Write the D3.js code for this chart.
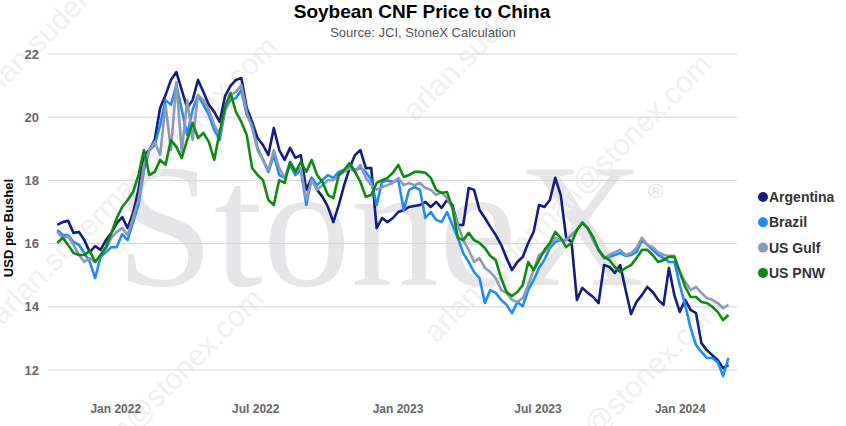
<!DOCTYPE html>
<html>
<head>
<meta charset="utf-8">
<script src="https://cdn.jsdelivr.net/npm/d3@7"></script>
<style>
  html, body { margin: 0; padding: 0; background: #fff; }
  svg { display: block; font-family: "Liberation Sans", Arial, sans-serif; }
</style>
</head>
<body>
<div id="chart"></div>
<script>

// weekly observations, first Monday of the series and last one
const firstWeek = "2021-10-18"
const lastWeek = "2024-03-04"

const seriesNames = ["Argentina", "Brazil", "US Gulf", "US PNW"]
const seriesColors = ["#151d7c", "#1f8cf5", "#8a9ab8", "#0e8a12"]

const argentina = [16.59,16.68,16.72,16.34,16.37,16.11,15.73,15.92,15.80,16.11,
  16.34,16.65,16.84,16.49,16.97,17.70,18.80,18.96,19.28,20.29,
  20.70,21.18,21.43,20.86,20.29,20.54,21.18,20.80,20.39,20.17,
  19.85,20.67,20.99,21.18,21.24,20.29,19.85,19.34,19.12,18.80,
  19.66,18.96,18.65,19.03,18.71,18.80,17.70,18.08,17.70,17.48,
  17.16,16.68,17.22,17.85,18.39,18.80,18.96,18.39,18.39,16.49,
  16.81,16.68,16.81,17.00,17.06,17.16,17.19,17.22,17.32,17.16,
  17.32,17.13,17.38,17.22,16.59,16.59,17.76,17.70,17.06,16.81,
  16.53,16.27,15.96,15.54,15.16,15.42,15.58,16.02,16.37,17.22,
  17.16,17.38,18.08,17.54,16.20,16.05,14.22,14.60,14.44,14.31,
  14.12,15.32,15.26,15.07,15.32,14.53,13.77,14.15,14.37,14.63,
  14.47,14.22,14.06,15.23,14.37,13.84,14.22,13.90,13.80,12.85,
  12.63,12.47,12.32,12.06,12.16]

const brazil = [16.43,16.27,16.27,16.05,15.96,15.70,15.42,14.91,15.58,15.73,
  15.89,15.89,16.30,16.11,16.68,17.22,18.33,18.96,19.12,19.75,
  20.54,20.39,21.02,20.23,19.44,20.23,20.70,20.39,20.07,19.59,
  19.28,20.23,20.54,20.61,20.86,20.07,19.75,19.03,18.65,18.27,
  18.80,18.17,18.08,18.49,18.17,18.33,17.22,18.08,17.85,18.01,
  18.17,18.08,18.27,18.33,18.49,18.33,18.39,18.27,18.01,17.22,
  17.95,18.00,17.95,18.01,17.06,17.70,17.79,17.70,16.81,17.00,
  16.75,16.68,17.00,16.59,16.18,15.70,15.42,15.10,14.91,14.12,
  14.53,14.44,14.22,14.06,13.80,14.15,14.02,14.53,14.85,15.23,
  15.48,15.86,16.05,16.11,16.11,16.27,16.43,16.68,16.49,16.11,
  15.80,15.54,15.58,15.64,15.70,15.61,15.64,15.73,16.11,15.96,
  15.80,15.64,15.54,15.42,15.42,14.69,14.06,13.33,12.79,12.57,
  12.38,12.38,12.25,11.81,12.38]

const usGulf = [16.37,16.18,16.24,15.96,15.64,15.42,15.54,15.42,15.64,15.86,
  16.18,16.37,16.49,16.27,16.81,17.38,18.49,18.96,19.22,18.80,
  20.39,18.96,21.11,18.90,20.54,19.28,20.70,20.54,20.23,19.75,
  19.44,20.23,20.70,20.80,21.02,20.17,19.66,18.96,18.65,18.33,
  18.96,18.39,18.08,18.58,18.33,18.39,17.38,18.01,17.70,17.85,
  18.01,18.01,18.17,18.27,18.39,18.27,18.49,18.08,17.85,17.70,
  17.79,17.85,17.92,18.08,17.85,17.92,17.85,17.92,17.76,17.70,
  17.54,17.63,17.44,17.13,16.59,16.11,15.80,15.42,15.54,15.23,
  15.10,14.91,14.53,14.44,14.22,14.15,14.28,14.69,15.16,15.64,
  15.73,15.96,16.18,16.11,16.11,16.27,16.43,16.68,16.49,16.11,
  15.80,15.54,15.64,15.73,15.80,15.64,15.70,15.86,16.18,15.96,
  15.89,15.73,15.64,15.61,15.61,15.10,14.79,14.53,14.63,14.44,
  14.28,14.22,14.12,13.96,14.06]

const usPnw = [16.02,16.18,15.96,15.70,15.64,15.64,15.77,15.42,15.64,15.89,
  16.34,16.81,17.16,17.38,17.63,18.17,18.96,18.17,18.27,18.65,
  18.49,19.28,19.06,18.71,19.28,19.82,19.34,19.50,19.22,18.65,
  19.53,20.32,20.77,20.17,19.85,19.44,18.39,18.17,18.01,17.38,
  17.22,18.01,17.92,18.58,18.27,18.58,18.27,18.65,18.17,17.95,
  17.54,17.44,18.17,18.33,18.55,18.27,17.95,17.48,17.54,17.92,
  18.01,18.08,18.24,18.49,18.11,18.17,18.27,18.27,18.24,18.08,
  17.70,17.60,17.63,17.13,16.18,16.11,16.34,16.11,16.02,15.86,
  15.61,15.48,14.91,14.47,14.34,14.47,14.69,15.42,15.16,15.48,
  15.80,16.02,16.37,16.18,15.89,16.02,16.43,16.65,16.49,16.21,
  15.80,15.58,15.48,15.26,15.10,15.23,15.32,15.54,15.80,15.80,
  15.64,15.42,15.48,15.58,15.58,15.10,14.63,14.31,14.31,14.15,
  14.12,14.00,13.84,13.58,13.74]

const yTicks = [12, 14, 16, 18, 20, 22]
const xTickDates = ["2022-01-01", "2022-07-01", "2023-01-01", "2023-07-01", "2024-01-01"]

const width = 846
const height = 426
const margin = { top: 54, right: 109, bottom: 56, left: 48 }

var parse = d3.utcParse("%Y-%m-%d")
var weeks = d3.utcMonday.range(parse(firstWeek), d3.utcDay.offset(parse(lastWeek), 1))
var allSeries = [argentina, brazil, usGulf, usPnw]

var svg = d3.select("#chart").append("svg")
    .attr("width", width)
    .attr("height", height)

var x = d3.scaleUtc()
    .domain([parse("2021-10-06"), parse("2024-03-15")])
    .range([margin.left, width - margin.right])

var y = d3.scaleLinear()
    .domain([12, 22])
    .range([370, 54])

// watermark: big logo text
var wm = svg.append("g")

wm.append("text")
    .attr("x", 116)
    .attr("y", 285)
    .attr("font-family", "'Liberation Serif', 'Times New Roman', serif")
    .attr("font-size", 176)
    .attr("fill", "#e6e6e8")
    .text("StoneX")

wm.append("text")
    .attr("x", 648)
    .attr("y", 198)
    .attr("font-size", 21)
    .attr("fill", "#e3e3e3")
    .text("\u00ae")

// diagonal email watermark
var stamps = [[-15, 108], [2, 326], [-12, 578], [415, 122], [436, 344], [448, 586]]
stamps.forEach(function(p) {
    wm.append("text")
        .attr("transform", `translate(${p[0]},${p[1]}) rotate(-45)`)
        .attr("font-size", 30)
        .attr("fill", "#f0f0f0")
        .text("arlan.suderman@stonex.com")
})

// grid lines
svg.append("g")
    .selectAll("line")
    .data(yTicks)
    .join("line")
    .attr("x1", margin.left)
    .attr("x2", width - margin.right)
    .attr("y1", d => y(d))
    .attr("y2", d => y(d))
    .attr("stroke", "#d6d6d6")
    .attr("stroke-width", 1)

// y axis labels
var yAxis = svg.append("g")
    .attr("transform", "translate(39,0)")
    .call(d3.axisLeft(y).tickValues(yTicks).tickSize(0).tickPadding(0).tickFormat(d3.format("d")))

yAxis.select(".domain").remove()
yAxis.selectAll("text")
    .attr("font-family", "'Liberation Sans', Arial, sans-serif")
    .attr("font-size", 13)
    .attr("font-weight", "bold")
    .attr("fill", "#666")

// x axis labels
var xAxis = svg.append("g")
    .attr("transform", "translate(0,404)")
    .call(d3.axisBottom(x).tickValues(xTickDates.map(parse)).tickSize(0).tickPadding(0).tickFormat(d3.utcFormat("%b %Y")))

xAxis.select(".domain").remove()
xAxis.selectAll("text")
    .attr("font-family", "'Liberation Sans', Arial, sans-serif")
    .attr("font-size", 12)
    .attr("font-weight", "bold")
    .attr("fill", "#666")

// axis title
svg.append("text")
    .attr("transform", "translate(13,228) rotate(-90)")
    .attr("text-anchor", "middle")
    .attr("font-size", 13)
    .attr("font-weight", "bold")
    .attr("fill", "#000")
    .text("USD per Bushel")

// title and subtitle
svg.append("text")
    .attr("x", 422)
    .attr("y", 18)
    .attr("text-anchor", "middle")
    .attr("font-size", 19)
    .attr("font-weight", "bold")
    .attr("fill", "#000")
    .text("Soybean CNF Price to China")

svg.append("text")
    .attr("x", 423)
    .attr("y", 37)
    .attr("text-anchor", "middle")
    .attr("font-size", 13)
    .attr("fill", "#555")
    .text("Source: JCI, StoneX Calculation")

// series lines
var line = d3.line()
    .x((d, i) => x(weeks[i]))
    .y(d => y(d))

svg.append("g")
    .selectAll("path")
    .data(allSeries)
    .join("path")
    .attr("d", d => line(d))
    .attr("fill", "none")
    .attr("stroke", (d, i) => seriesColors[i])
    .attr("stroke-width", 2.6)
    .attr("stroke-linejoin", "round")

// legend
var legend = svg.append("g")
    .selectAll("g")
    .data(seriesNames)
    .join("g")
    .attr("transform", (d, i) => `translate(763,${197 + i * 25.3})`)

legend.append("circle")
    .attr("r", 5)
    .attr("fill", (d, i) => seriesColors[i])

legend.append("text")
    .attr("x", 6)
    .attr("y", 5)
    .attr("font-size", 14)
    .attr("font-weight", "bold")
    .attr("fill", "#333")
    .text(d => d)

</script>
</body>
</html>
